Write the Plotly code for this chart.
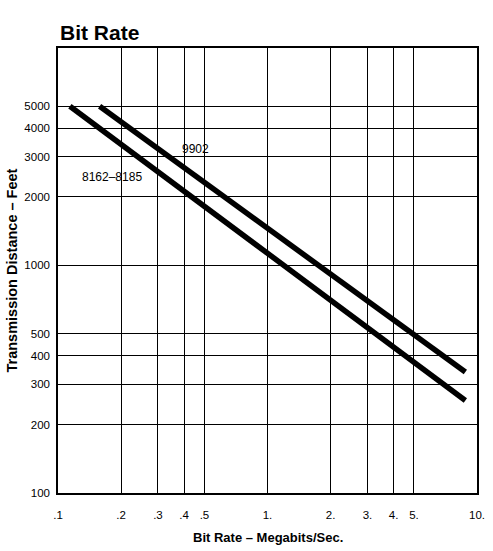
import math
import plotly.graph_objects as go

# Data
series_names = ["8162–8185", "9902"]
x_8162 = [0.114, 8.8]
y_8162 = [5000, 255]
x_9902 = [0.158, 8.8]
y_9902 = [5000, 340]

x_tickvals = [0.1, 0.2, 0.3, 0.4, 0.5, 1, 2, 3, 4, 5, 10]
x_ticktext = [".1", ".2", ".3", ".4", ".5", "1.", "2.", "3.", "4.", "5.", "10."]
y_tickvals = [100, 200, 300, 400, 500, 1000, 2000, 3000, 4000, 5000]
y_ticktext = ["100", "200", "300", "400", "500", "1000", "2000", "3000", "4000", "5000"]

label_pos = {"8162–8185": (0.182, 2450), "9902": (0.455, 3250)}

FONT = "Liberation Sans, Arial, Helvetica, sans-serif"

fig = go.Figure()
for name, xs, ys in [(series_names[0], x_8162, y_8162), (series_names[1], x_9902, y_9902)]:
    fig.add_trace(go.Scatter(x=xs, y=ys, mode="lines", name=name,
                             line=dict(color="black", width=5.5), showlegend=False))
    lx, ly = label_pos[name]
    fig.add_annotation(x=math.log10(lx), y=math.log10(ly), xref="x", yref="y", text=name,
                       showarrow=False, font=dict(family=FONT, size=12, color="black"))

fig.add_annotation(x=0, y=1, xref="paper", yref="paper", xanchor="left", yanchor="bottom",
                   yshift=2, text="<b>Bit Rate</b>", showarrow=False,
                   font=dict(family=FONT, size=21, color="black"))
fig.add_annotation(x=0.5, y=0, xref="paper", yref="paper", xanchor="center", yanchor="middle",
                   yshift=-44, text="<b>Bit Rate – Megabits/Sec.</b>", showarrow=False,
                   font=dict(family=FONT, size=13, color="black"))
fig.add_annotation(x=0, y=0.5, xref="paper", yref="paper", xanchor="center", yanchor="middle",
                   xshift=-47, textangle=-90, text="<b>Transmission Distance – Feet</b>",
                   showarrow=False, font=dict(family=FONT, size=14.5, color="black"))

axis_common = dict(type="log", showgrid=True, gridcolor="black", gridwidth=1.2,
                   showline=True, linecolor="black", linewidth=1.5, mirror=True,
                   ticks="", zeroline=False, automargin=False,
                   tickfont=dict(family=FONT, size=11.5, color="black"))

fig.update_xaxes(range=[-1, 1], tickvals=x_tickvals, ticktext=x_ticktext,
                 ticklabelstandoff=10, **axis_common)
fig.update_yaxes(range=[2, 3.955], tickvals=y_tickvals, ticktext=y_ticktext,
                 ticklabelstandoff=4, **axis_common)

fig.update_layout(width=493, height=551, margin=dict(l=58, r=16, t=48, b=58),
                  paper_bgcolor="white", plot_bgcolor="white",
                  font=dict(family=FONT, color="black"))

fig.write_html("out.html", config={"displayModeBar": False},
               post_script="document.body.style.margin='0';document.body.style.overflow='hidden';")
